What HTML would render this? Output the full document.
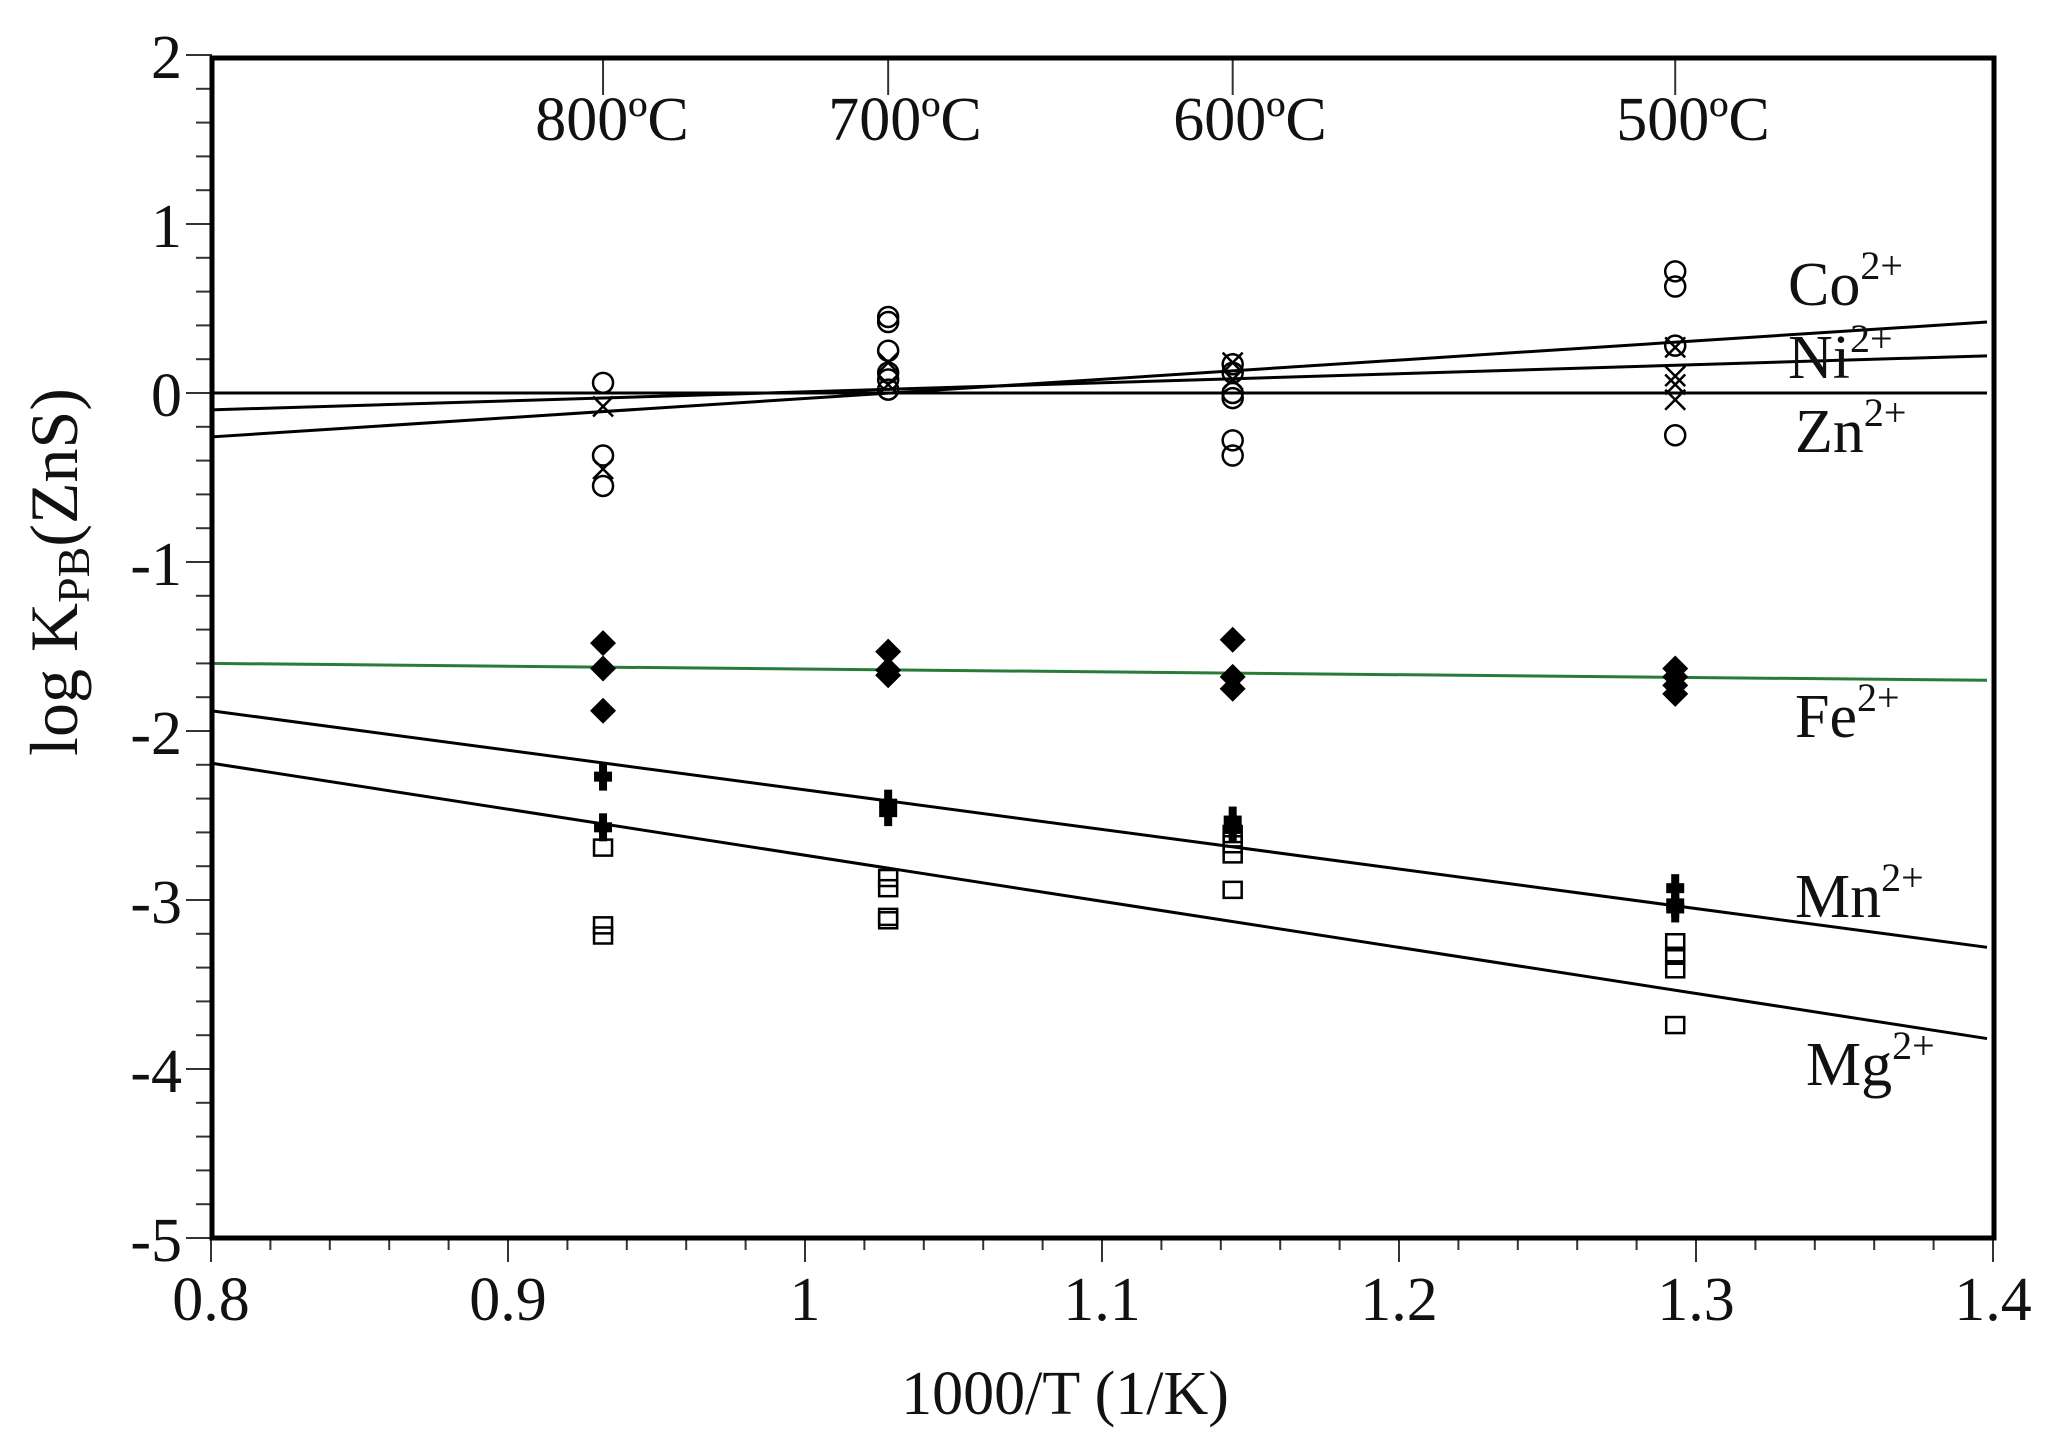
<!DOCTYPE html>
<html><head><meta charset="utf-8"><style>
html,body{margin:0;padding:0;background:#fff;}
svg{display:block;font-family:"Liberation Serif",serif;}
</style></head><body>
<svg id="s" width="2052" height="1438" viewBox="0 0 2052 1438" xmlns="http://www.w3.org/2000/svg">
<rect width="2052" height="1438" fill="#fff"/>
<g id="g"></g>
<g font-size="62" fill="#111">
<text x="612" y="140" text-anchor="middle">800ºC</text>
<text x="905" y="140" text-anchor="middle">700ºC</text>
<text x="1250" y="140" text-anchor="middle">600ºC</text>
<text x="1693" y="140" text-anchor="middle">500ºC</text>
</g>
<g font-size="62" fill="#111" text-anchor="end">
<text x="182" y="78">2</text>
<text x="182" y="247">1</text>
<text x="182" y="416">0</text>
<text x="182" y="585">-1</text>
<text x="182" y="754">-2</text>
<text x="182" y="923">-3</text>
<text x="182" y="1092">-4</text>
<text x="182" y="1261">-5</text>
</g>
<g font-size="62" fill="#111" text-anchor="middle">
<text x="211" y="1320">0.8</text>
<text x="508" y="1320">0.9</text>
<text x="805" y="1320">1</text>
<text x="1102" y="1320">1.1</text>
<text x="1399" y="1320">1.2</text>
<text x="1696" y="1320">1.3</text>
<text x="1993" y="1320">1.4</text>
<text x="1065" y="1414">1000/T (1/K)</text>
</g>
<text transform="translate(77,572) rotate(-90)" font-size="68" text-anchor="middle" fill="#111">log K<tspan font-size="46" dy="12">PB</tspan><tspan dy="-12">(ZnS)</tspan></text>
<g font-size="62" fill="#111">
<text x="1788" y="305">Co<tspan font-size="40" dy="-26">2+</tspan></text>
<text x="1788" y="378">Ni<tspan font-size="40" dy="-26">2+</tspan></text>
<text x="1795" y="452">Zn<tspan font-size="40" dy="-26">2+</tspan></text>
<text x="1795" y="737">Fe<tspan font-size="40" dy="-26">2+</tspan></text>
<text x="1795" y="917">Mn<tspan font-size="40" dy="-26">2+</tspan></text>
<text x="1806" y="1085">Mg<tspan font-size="40" dy="-26">2+</tspan></text>
</g>
</svg>
<script>
var X=function(v){return 211+(v-0.8)*2970;},Y=function(v){return 393-v*169;};
var h='';
function L(x1,y1,x2,y2,c,w){h+='<line x1="'+x1+'" y1="'+y1+'" x2="'+x2+'" y2="'+y2+'" stroke="'+(c||'#000')+'" stroke-width="'+(w||3)+'"/>';}
// ticks
for(var i=0;i<=35;i++){var yy=Y(2-i*0.2);L(i%5==0?186:196,yy,212,yy,'#333',2);}
for(var i=0;i<=30;i++){var xx=X(0.8+i*0.02);L(xx,1238,xx,i%5==0?1262:1250,'#333',2);}
[0.932,1.028,1.144,1.293].forEach(function(c){L(X(c),58,X(c),95,'#333',2);});
// lines
function DL(a,b,c){L(X(0.8),Y(a),X(1.4)-6,Y(b),c||'#000',3);}
DL(0,0);DL(-0.1,0.22);DL(-0.26,0.42);DL(-1.6,-1.70,'#2a7a3a');DL(-1.88,-3.28);DL(-2.19,-3.82);
function C(x,y){h+='<circle cx="'+X(x)+'" cy="'+Y(y)+'" r="10" fill="none" stroke="#000" stroke-width="2.5"/>';}
function XX(x,y){var a=X(x),b=Y(y),r=10;L(a-r,b-r,a+r,b+r,'#000',2.5);L(a-r,b+r,a+r,b-r,'#000',2.5);}
function D(x,y){var a=X(x),b=Y(y),r=13;h+='<polygon points="'+a+','+(b-r)+' '+(a+r)+','+b+' '+a+','+(b+r)+' '+(a-r)+','+b+'" fill="#000"/>';}
function P(x,y){var a=X(x),b=Y(y);h+='<rect x="'+(a-9)+'" y="'+(b-5)+'" width="18" height="10" fill="#000"/><rect x="'+(a-4)+'" y="'+(b-14)+'" width="8" height="28" fill="#000"/>';}
function S(x,y){var a=X(x),b=Y(y);h+='<rect x="'+(a-9)+'" y="'+(b-8)+'" width="18" height="16" fill="none" stroke="#000" stroke-width="2.5"/>';}
var d={0.932:{c:[0.06,-0.37,-0.55],x:[-0.08,-0.45],d:[-1.48,-1.63,-1.88],p:[-2.27,-2.57],s:[-2.69,-3.15,-3.21]},
1.028:{c:[0.45,0.42,0.25,0.12,0.08,0.02],x:[0.18,0.05],d:[-1.53,-1.64,-1.67],p:[-2.43,-2.48],s:[-2.87,-2.93,-3.10,-3.12]},
1.144:{c:[0.17,0.12,0.0,-0.03,-0.28,-0.37],x:[0.18,0.08],d:[-1.46,-1.68,-1.75],p:[-2.53,-2.58],s:[-2.61,-2.67,-2.73,-2.94]},
1.293:{c:[0.72,0.63,0.28,-0.25],x:[0.27,0.1,0.05,-0.04],d:[-1.63,-1.68,-1.73,-1.78],p:[-2.93,-3.02,-3.05],s:[-3.25,-3.33,-3.41,-3.74]}};
for(var k in d){var x=parseFloat(k),o=d[k];o.c.forEach(function(v){C(x,v);});o.x.forEach(function(v){XX(x,v);});o.d.forEach(function(v){D(x,v);});o.p.forEach(function(v){P(x,v);});o.s.forEach(function(v){S(x,v);});}
h+='<rect x="212" y="58" width="1782" height="1180" fill="none" stroke="#000" stroke-width="5"/>';
document.getElementById('g').innerHTML=h;
</script>
</body></html>
